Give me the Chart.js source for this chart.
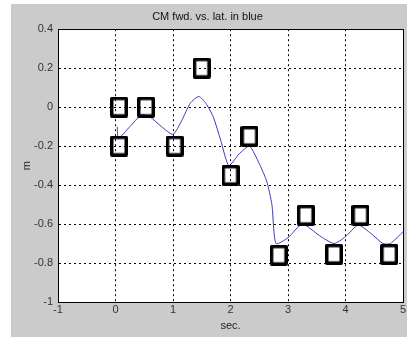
<!DOCTYPE html>
<html>
<head>
<meta charset="utf-8">
<script src="https://cdn.jsdelivr.net/npm/chart.js@4"></script>
<style>
  html, body { margin:0; padding:0; background:#fff; }
  #wrap { width:407px; height:337px; position:relative; }
</style>
</head>
<body>
<div id="wrap"><canvas id="c"></canvas></div>
<script>
// ---------- data ----------
const markX = [0.06, 0.06, 0.53, 1.03, 1.5, 2.0, 2.33, 2.84, 3.31, 3.8, 4.26, 4.76];
const markY = [0.0, -0.2, 0.0, -0.2, 0.2, -0.35, -0.15, -0.76, -0.555, -0.755, -0.555, -0.755];

const lineX = [0.03, 0.05, 0.25, 0.45, 0.6, 0.8, 1.0, 1.15, 1.3, 1.45, 1.57, 1.7, 1.83, 1.97, 2.15, 2.33, 2.5, 2.63, 2.72, 2.79, 3.0, 3.25, 3.55, 3.8, 4.0, 4.22, 4.45, 4.65, 4.78, 5.0];
const lineY = [-0.10, -0.16, -0.10, -0.04, -0.05, -0.10, -0.14, -0.07, 0.02, 0.055, 0.02, -0.05, -0.17, -0.30, -0.24, -0.20, -0.29, -0.38, -0.50, -0.70, -0.67, -0.60, -0.66, -0.70, -0.665, -0.605, -0.65, -0.70, -0.70, -0.64];

const xTicks = [-1, 0, 1, 2, 3, 4, 5];
const yTicks = [0.4, 0.2, 0, -0.2, -0.4, -0.6, -0.8, -1];

const titleText = 'CM fwd. vs. lat. in blue';
const xLabel = 'sec.';
const yLabel = 'm';

// ---------- open square marker (slightly taller than wide, like the matlab one) ----------
const box = document.createElement('canvas');
box.width = 18; box.height = 21;
(function(){
  const g = box.getContext('2d');
  g.strokeStyle = '#000';
  g.lineWidth = 3.5;
  g.lineJoin = 'round';
  g.strokeRect(1.75, 1.75, 18 - 3.5, 21 - 3.5);
})();

// ---------- figure background (matlab grey + white axes) ----------
const figureBg = {
  id: 'figureBg',
  beforeDraw(chart){
    const {ctx, chartArea:a} = chart;
    ctx.save();
    ctx.fillStyle = '#cbcbcb';
    ctx.fillRect(11, 4, chart.width - 11, chart.height - 4);
    ctx.fillStyle = '#fff';
    ctx.fillRect(a.left, a.top, a.right - a.left, a.bottom - a.top);
    ctx.restore();
  },
  afterDatasetsDraw(chart){
    const {ctx, chartArea:a} = chart;
    ctx.save();
    ctx.strokeStyle = '#000';
    ctx.lineWidth = 1;
    ctx.strokeRect(Math.round(a.left) + 0.5, Math.round(a.top) + 0.5, Math.round(a.right - a.left), Math.round(a.bottom - a.top));
    ctx.restore();
  }
};

const font = { family: 'Liberation Sans, Arial, sans-serif', size: 11 };
const fmt = v => String(Math.round(v * 10) / 10);

new Chart(document.getElementById('c'), {
  type: 'scatter',
  data: {
    datasets: [
      {
        data: lineX.map((x, i) => ({x, y: lineY[i]})),
        showLine: true,
        borderColor: '#3a3ab8',
        borderWidth: 1,
        pointRadius: 0,
        tension: 0.2,
        order: 2
      },
      {
        data: markX.map((x, i) => ({x, y: markY[i]})),
        showLine: false,
        pointStyle: box,
        pointRadius: 10,
        order: 1
      }
    ]
  },
  options: {
    responsive: true,
    maintainAspectRatio: false,
    animation: false,
    layout: { autoPadding: false, padding: { left: 12, right: 4, top: 0, bottom: 0 } },
    plugins: {
      legend: { display: false },
      tooltip: { enabled: false },
      title: {
        display: true, text: titleText, color: '#111',
        font: { ...font, weight: 'normal' },
        padding: { top: 10, bottom: 6 }
      }
    },
    scales: {
      x: {
        type: 'linear', min: -1, max: 5,
        afterBuildTicks: s => { s.ticks = xTicks.map(v => ({value: v})); },
        afterFit: s => { s.height = 35; s.paddingLeft = 0; s.paddingRight = 0; },
        ticks: { color: '#333', font, padding: 1, callback: fmt },
        grid: { color: '#000', lineWidth: 1, drawTicks: false },
        border: { display: true, color: '#000', dash: [2, 3] },
        title: { display: true, text: xLabel, color: '#222', font, padding: { top: 0, bottom: 4 } }
      },
      y: {
        type: 'linear', min: -1, max: 0.4,
        afterBuildTicks: s => { s.ticks = yTicks.map(v => ({value: v})); },
        afterFit: s => { s.width = 46; s.paddingTop = 0; s.paddingBottom = 0; },
        ticks: { color: '#333', font, padding: 5, callback: fmt },
        grid: { color: '#000', lineWidth: 1, drawTicks: false },
        border: { display: true, color: '#000', dash: [2, 3] },
        title: { display: true, text: yLabel, color: '#222', font, padding: { top: 8, bottom: 0 } }
      }
    }
  },
  plugins: [figureBg]
});
</script>
</body>
</html>
